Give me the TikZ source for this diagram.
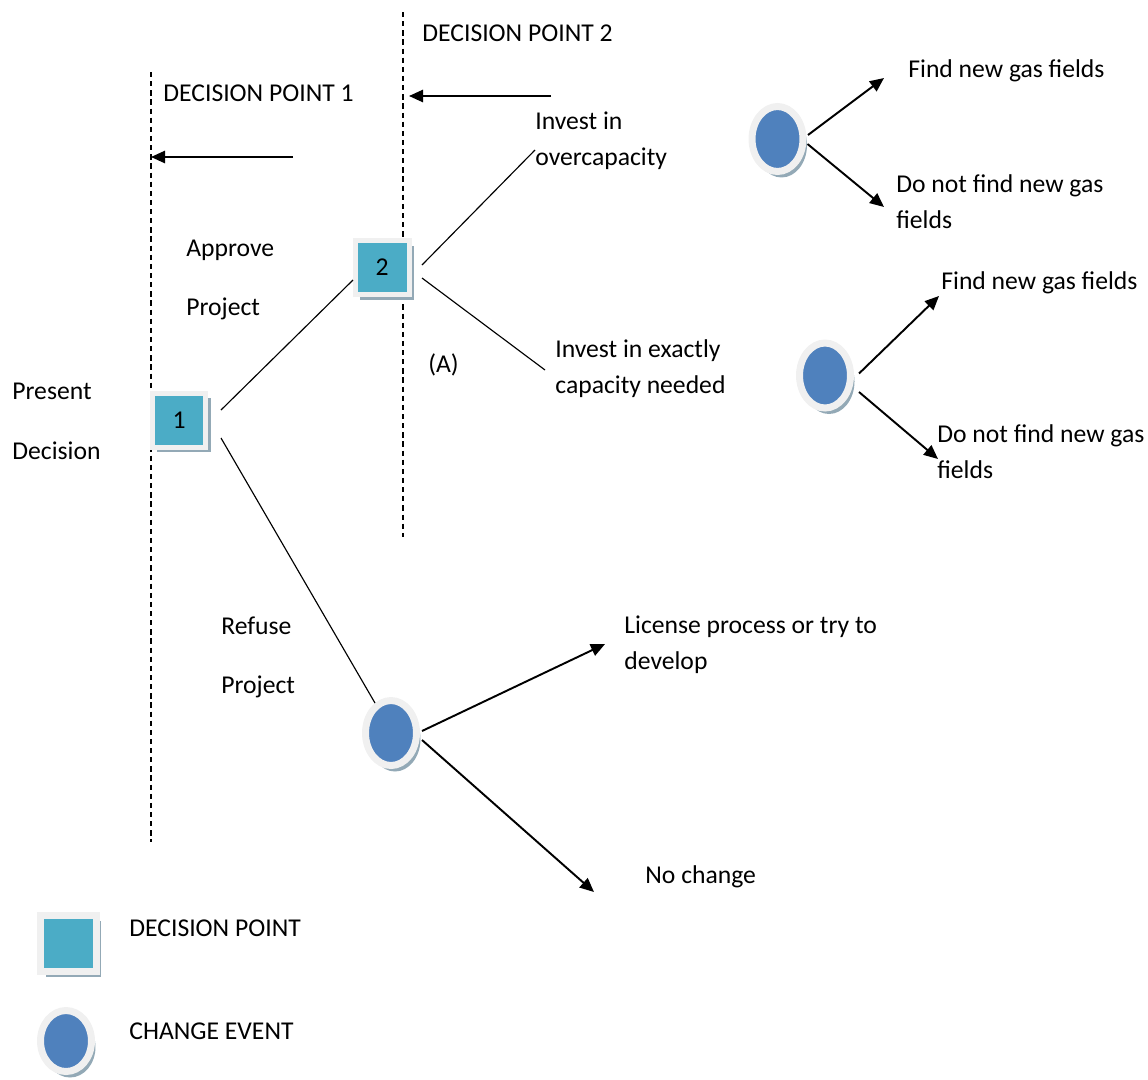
\documentclass[tikz,border=0pt]{standalone}
\usepackage{fontspec}
\setmainfont{Carlito}
\usetikzlibrary{arrows.meta,shapes.geometric,shadows}
\definecolor{dpteal}{HTML}{4BACC6}
\definecolor{evblue}{HTML}{4F81BD}
\definecolor{bevel}{HTML}{F0F0F0}
\definecolor{shade}{HTML}{93A9B6}
\begin{document}
\begin{tikzpicture}[x=0.02cm,y=-0.02cm,
  every node/.style={font=\fontsize{14.6}{17}\selectfont},
  lbl/.style={anchor=base west, inner sep=0pt},
  decisionbox/.style={rectangle, fill=dpteal, draw=bevel, line width=0.1cm,
    minimum width=1.08cm, minimum height=1.08cm, inner sep=0pt,
    general shadow={fill=shade, shadow xshift=0.1cm, shadow yshift=-0.1cm}},
  chanceevent/.style={ellipse, fill=evblue, draw=bevel, line width=0.14cm,
    minimum width=1.02cm, minimum height=1.3cm, inner sep=0pt,
    general shadow={fill=shade, shadow xshift=0.08cm, shadow yshift=-0.12cm}},
  timeline/.style={line width=0.6pt, dash pattern=on 3pt off 2.2pt},
  branch/.style={line width=0.65pt},
  outcome/.style={line width=1.1pt, -{Triangle[length=8pt,width=7pt]}},
]
\useasboundingbox (0,0) rectangle (1148,1079);

% decision-point time lines
\coordinate (dpA top) at (151,72);
\coordinate (dpA bot) at (151,842);
\coordinate (dpB top) at (403,12);
\coordinate (dpB bot) at (403,537);
\draw[timeline] (dpA top) -- (dpA bot);
\draw[timeline] (dpB top) -- (dpB bot);

\node[lbl] (dpA lbl) at (163,101) {DECISION POINT 1};
\node[lbl] (dpB lbl) at (422,41) {DECISION POINT 2};

% arrows pointing back to the time lines
\coordinate (arA start) at (293,157);
\coordinate (arA end) at (151,157);
\coordinate (arB start) at (551,96);
\coordinate (arB end) at (409,96);
\draw[outcome] (arA start) -- (arA end);
\draw[outcome] (arB start) -- (arB end);

% decision nodes and chance events
\node[decisionbox] (s1) at (179,420) {1};
\node[decisionbox] (s2) at (382,267.5) {2};
\node[chanceevent] (c1) at (777.5,139) {};
\node[chanceevent] (c2) at (825,375.5) {};
\node[chanceevent] (c3) at (391,733) {};

% branch labels
\node[lbl] (present) at (12,399) {Present};
\node[lbl] (decision) at (12,459) {Decision};
\node[lbl] (approve) at (186,256) {Approve};
\node[lbl] (approve2) at (186,315) {Project};
\node[lbl] (refuse) at (221,634) {Refuse};
\node[lbl] (refuse2) at (221,693) {Project};
\node[lbl] (over1) at (535,129) {Invest in};
\node[lbl] (over2) at (535,165) {overcapacity};
\node[lbl] (markA) at (428,372) {(A)};
\node[lbl] (exact1) at (555,357) {Invest in exactly};
\node[lbl] (exact2) at (555,393) {capacity needed};
\node[lbl] (find1) at (908,77) {Find new gas fields};
\node[lbl] (nofind1) at (896,192) {Do not find new gas};
\node[lbl] (nofind1b) at (896,228) {fields};
\node[lbl] (find2) at (941,289) {Find new gas fields};
\node[lbl] (nofind2) at (937,442) {Do not find new gas};
\node[lbl] (nofind2b) at (937,478) {fields};
\node[lbl] (license1) at (624,633) {License process or try to};
\node[lbl] (license2) at (624,669) {develop};
\node[lbl] (nochange) at (645,883) {No change};

% branches out of the decision nodes
\coordinate (overEnd) at (535,150);
\coordinate (exactEnd) at (545,370);
\draw[branch] ([shift={(42,-10)}]s1.center) -- ([shift={(-29,12.5)}]s2.center);
\draw[branch] ([shift={(42,18)}]s1.center) -- ([shift={(-16,-30)}]c3.center);
\draw[branch] ([shift={(40,-2.5)}]s2.center) -- (overEnd);
\draw[branch] ([shift={(40,10.5)}]s2.center) -- (exactEnd);

% outcomes of the chance events
\coordinate (t1) at (884,78);
\coordinate (t2) at (884,207);
\coordinate (t3) at (939,296);
\coordinate (t4) at (938,459);
\coordinate (t5) at (605,644);
\coordinate (t6) at (594,892);
\draw[outcome] ([shift={(30.5,-4)}]c1.center) -- (t1);
\draw[outcome] ([shift={(30,5)}]c1.center) -- (t2);
\draw[outcome] ([shift={(34,-2)}]c2.center) -- (t3);
\draw[outcome] ([shift={(34,16.5)}]c2.center) -- (t4);
\draw[outcome] ([shift={(31,-2)}]c3.center) -- (t5);
\draw[outcome] ([shift={(31,7)}]c3.center) -- (t6);

% legend
\node[decisionbox, line width=0.14cm, minimum width=1.12cm, minimum height=1.12cm] (keyBox) at (68.5,943.5) {};
\node[chanceevent, minimum width=1.02cm, minimum height=1.22cm] (keyEvent) at (66,1041) {};
\node[lbl] (keyBoxLbl) at (129,936) {DECISION POINT};
\node[lbl] (keyEventLbl) at (129,1039) {CHANGE EVENT};
\end{tikzpicture}
\end{document}
